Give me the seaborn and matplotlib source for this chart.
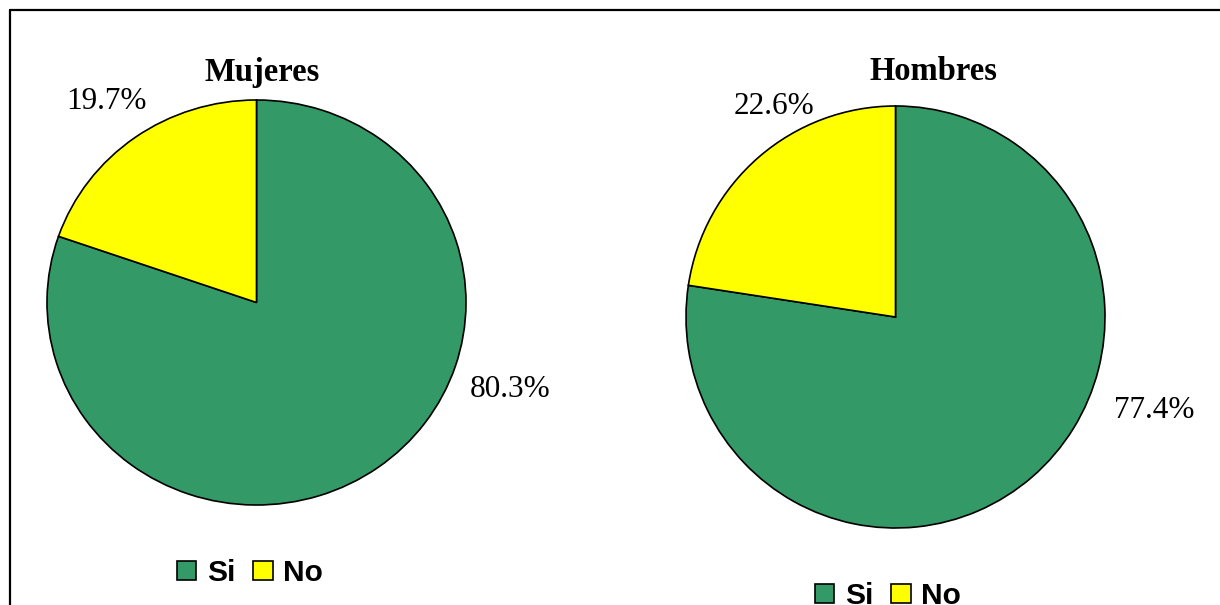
import matplotlib
matplotlib.use('Agg')
import matplotlib.pyplot as plt
import seaborn as sns
from matplotlib.patches import Patch
from matplotlib.lines import Line2D

# Data
categories = ["Si", "No"]
mujeres = [80.3, 19.7]
hombres = [77.4, 22.6]
titles = ["Mujeres", "Hombres"]
colors = ["#339966", "#FFFF00"]

sns.set_theme(style="white")
plt.rcParams['font.family'] = ['Liberation Serif', 'DejaVu Serif']
plt.rcParams['text.color'] = 'black'

W, H = 1220, 605
fig = plt.figure(figsize=(W / 100, H / 100), dpi=100)
fig.patch.set_facecolor("white")

# frame (only top and left edges are visible in the crop)
fig.add_artist(Line2D([10 / W, 10 / W], [0, 1 - 10 / H], color="black", lw=1.6, transform=fig.transFigure))
fig.add_artist(Line2D([10 / W, 1], [1 - 10 / H, 1 - 10 / H], color="black", lw=1.6, transform=fig.transFigure))

# pixel layout: center x/y and radii of each pie
pies = [
    dict(vals=mujeres, cx=256.5, cy=302.5, rx=209.5, ry=202.5, title_x=262,
         lbl=[(1.21, -0.432), (-0.714, 0.995)], leg=(250, 573)),
    dict(vals=hombres, cx=895.5, cy=317, rx=209.5, ry=211, title_x=933,
         lbl=[(1.234, -0.441), (-0.58, 1.0)], leg=(888, 596)),
]

for p, title in zip(pies, titles):
    ax = fig.add_axes([(p["cx"] - p["rx"]) / W, (H - p["cy"] - p["ry"]) / H,
                       2 * p["rx"] / W, 2 * p["ry"] / H])
    wedges, _ = ax.pie(p["vals"], colors=colors, startangle=90, counterclock=False,
                       radius=1, wedgeprops=dict(edgecolor="black", linewidth=1.2))
    ax.set_xlim(-1, 1)
    ax.set_ylim(-1, 1)
    ax.set_aspect("auto")
    ax.axis("off")
    for v, (lx, ly) in zip(p["vals"], p["lbl"]):
        ax.text(lx, ly, f"{v:.1f}%", ha="center", va="center", fontsize=22.5, clip_on=False)
    fig.text(p["title_x"] / W, 1 - 72 / H, title, ha="center", va="center",
             fontsize=23.5, fontweight="bold")
    handles = [Patch(facecolor=c, edgecolor="black", linewidth=1.2) for c in colors]
    fig.legend(handles, categories, loc="center",
               bbox_to_anchor=(p["leg"][0] / W, 1 - p["leg"][1] / H),
               ncol=2, frameon=False, handlelength=0.65, handleheight=0.65,
               handletextpad=0.35, columnspacing=0.6, borderpad=0, borderaxespad=0,
               prop=dict(family="Liberation Sans", weight="bold", size=21.5))

fig.savefig("out.png", dpi=100, facecolor="white")
